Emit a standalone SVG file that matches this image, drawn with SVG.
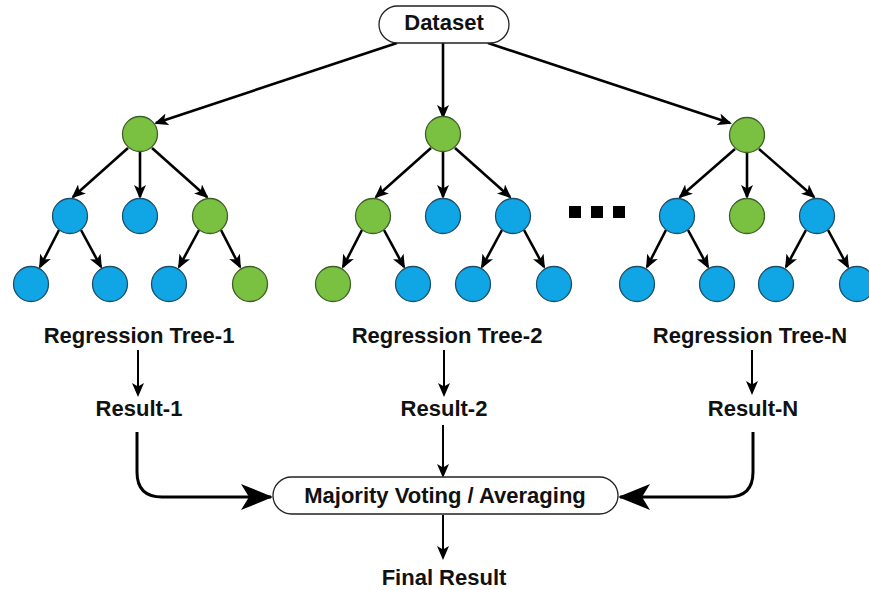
<svg xmlns="http://www.w3.org/2000/svg" width="869" height="590" viewBox="0 0 869 590">
<style>
.lbl{font-family:"Liberation Sans",Arial,sans-serif;font-weight:bold;font-size:22px;fill:#111;text-anchor:middle}
.g{fill:#7ac142;stroke:#3f5f27;stroke-width:1.3}
.b{fill:#10a5e5;stroke:#1e4f68;stroke-width:1.3}
.e{stroke:#000;stroke-width:2.6;fill:none;marker-end:url(#ah)}
.t{stroke:#000;stroke-width:2;fill:none;marker-end:url(#ah)}
.big{stroke:#000;stroke-width:3;fill:none;marker-end:url(#big)}
.box{fill:#fff;stroke:#222;stroke-width:1.3}
</style>
<defs>
<marker id="ah" viewBox="0 0 14 12" refX="12" refY="6" markerWidth="14" markerHeight="12" orient="auto" markerUnits="userSpaceOnUse"><path d="M0,0 L14,6 L0,12 L3.5,6 z" fill="#000"/></marker>
<marker id="big" viewBox="0 0 32 26" refX="30" refY="13" markerWidth="32" markerHeight="26" orient="auto" markerUnits="userSpaceOnUse"><path d="M0,0 L32,13 L0,26 L8,13 z" fill="#000"/></marker>
</defs>
<rect width="869" height="590" fill="#fff"/>
<g id="connectors">
<line class="e" x1="397" y1="43" x2="156" y2="123"/>
<line class="e" x1="443" y1="43" x2="443" y2="117"/>
<line class="e" x1="488" y1="43" x2="730" y2="123"/>
<line class="e" x1="128" y1="148" x2="73" y2="197"/>
<line class="e" x1="140" y1="151" x2="140" y2="197"/>
<line class="e" x1="152" y1="148" x2="207" y2="197"/>
<line class="e" x1="59" y1="230" x2="40" y2="267"/>
<line class="e" x1="81" y1="230" x2="101" y2="267"/>
<line class="e" x1="199" y1="230" x2="179" y2="267"/>
<line class="e" x1="221" y1="230" x2="240" y2="267"/>
<line class="e" x1="431" y1="148" x2="376" y2="197"/>
<line class="e" x1="443" y1="151" x2="443" y2="197"/>
<line class="e" x1="455" y1="148" x2="510" y2="197"/>
<line class="e" x1="362" y1="230" x2="343" y2="267"/>
<line class="e" x1="384" y1="230" x2="404" y2="267"/>
<line class="e" x1="502" y1="230" x2="482" y2="267"/>
<line class="e" x1="524" y1="230" x2="544" y2="267"/>
<line class="e" x1="735" y1="149" x2="680" y2="197"/>
<line class="e" x1="747" y1="152" x2="747" y2="197"/>
<line class="e" x1="759" y1="149" x2="814" y2="197"/>
<line class="e" x1="666" y1="230" x2="647" y2="267"/>
<line class="e" x1="688" y1="230" x2="708" y2="267"/>
<line class="e" x1="806" y1="230" x2="786" y2="267"/>
<line class="e" x1="828" y1="230" x2="848" y2="267"/>
<line class="t" x1="138" y1="350" x2="138" y2="395"/>
<line class="t" x1="444" y1="350" x2="444" y2="395"/>
<line class="t" x1="752" y1="350" x2="752" y2="393"/>
<line class="t" x1="443" y1="425" x2="443" y2="476"/>
<line class="t" x1="443" y1="515" x2="443" y2="558"/>
<path class="big" d="M137,432 V472 Q137,497 162,497 H271"/>
<path class="big" d="M753,432 V472 Q753,497 728,497 H620"/>
</g>
<g id="dataset"><rect class="box" x="379" y="6" width="130" height="37" rx="18.5"/><text class="lbl" x="444" y="30">Dataset</text></g>
<g id="tree1">
<circle class="g" cx="140" cy="134" r="17.5"/>
<circle class="b" cx="70" cy="216" r="17.5"/>
<circle class="b" cx="140" cy="216" r="17.5"/>
<circle class="g" cx="210" cy="216" r="17.5"/>
<circle class="b" cx="31" cy="284" r="17.5"/>
<circle class="b" cx="110" cy="284" r="17.5"/>
<circle class="b" cx="169" cy="284" r="17.5"/>
<circle class="g" cx="250" cy="284" r="17.5"/>
</g>
<g id="tree2">
<circle class="g" cx="443" cy="134" r="17.5"/>
<circle class="g" cx="373" cy="216" r="17.5"/>
<circle class="b" cx="443" cy="216" r="17.5"/>
<circle class="b" cx="513" cy="216" r="17.5"/>
<circle class="g" cx="333" cy="284" r="17.5"/>
<circle class="b" cx="413" cy="284" r="17.5"/>
<circle class="b" cx="473" cy="284" r="17.5"/>
<circle class="b" cx="554" cy="284" r="17.5"/>
</g>
<g id="treeN">
<circle class="g" cx="747" cy="135" r="17.5"/>
<circle class="b" cx="677" cy="216" r="17.5"/>
<circle class="g" cx="747" cy="216" r="17.5"/>
<circle class="b" cx="817" cy="216" r="17.5"/>
<circle class="b" cx="637" cy="284" r="17.5"/>
<circle class="b" cx="717" cy="284" r="17.5"/>
<circle class="b" cx="776" cy="284" r="17.5"/>
<circle class="b" cx="857" cy="284" r="17.5"/>
</g>
<g id="ellipsis" fill="#000">
<rect x="569" y="206" width="12" height="12"/>
<rect x="591" y="206" width="12" height="12"/>
<rect x="613" y="206" width="12" height="12"/>
</g>
<g id="label-tree1"><text class="lbl" x="139" y="343">Regression Tree-1</text></g>
<g id="label-tree2"><text class="lbl" x="447" y="343">Regression Tree-2</text></g>
<g id="label-treeN"><text class="lbl" x="750" y="343">Regression Tree-N</text></g>
<g id="result1"><text class="lbl" x="139" y="416">Result-1</text></g>
<g id="result2"><text class="lbl" x="444" y="416">Result-2</text></g>
<g id="resultN"><text class="lbl" x="753" y="416">Result-N</text></g>
<g id="majority"><rect class="box" x="273" y="477" width="345" height="37" rx="18.5"/><text class="lbl" x="445" y="503">Majority Voting / Averaging</text></g>
<g id="final"><text class="lbl" x="444" y="585">Final Result</text></g>
</svg>
